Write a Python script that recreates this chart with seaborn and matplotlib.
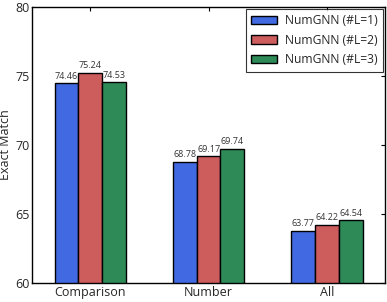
import pandas as pd
import matplotlib
matplotlib.use("Agg")
import matplotlib.pyplot as plt
import seaborn as sns

# ----------- données -----------
categories = ["Comparison", "Number", "All"]
series_names = ["NumGNN (#L=1)", "NumGNN (#L=2)", "NumGNN (#L=3)"]
scores_l1 = [74.46, 68.78, 63.77]
scores_l2 = [75.24, 69.17, 64.22]
scores_l3 = [74.53, 69.74, 64.54]
colors = ["#4169E1", "#CD5C5C", "#2E8B57"]

rows = []
for name, vals in zip(series_names, [scores_l1, scores_l2, scores_l3]):
    for cat, v in zip(categories, vals):
        rows.append({"task": cat, "model": name, "score": v})
df = pd.DataFrame(rows)

# ----------- style -----------
sns.set_style("white")
plt.rcParams["font.family"] = ["Open Sans", "DejaVu Sans"]
plt.rcParams["xtick.direction"] = "in"
plt.rcParams["ytick.direction"] = "in"
plt.rcParams["xtick.top"] = True
plt.rcParams["ytick.right"] = True

fig, ax = plt.subplots(figsize=(3.87, 3.02), dpi=100)
sns.barplot(data=df, x="task", y="score", hue="model", palette=colors,
            width=0.6, edgecolor="black", linewidth=1, saturation=1, ax=ax)

for cont in ax.containers:
    ax.bar_label(cont, fmt="%.2f", fontsize=6.5, padding=2, color="#333333")

ax.set_ylim(60, 80)
ax.set_xlim(-0.49, 2.49)
ax.set_yticks([60, 65, 70, 75, 80])
ax.set_xlabel("")
ax.set_ylabel("Exact Match", fontsize=9, labelpad=2)
ax.tick_params(axis="both", labelsize=9, length=3, width=0.8, color="black", pad=2)
for sp in ax.spines.values():
    sp.set_color("black")
    sp.set_linewidth(1)

leg = ax.legend(loc="upper right", fontsize=8.7, frameon=True, fancybox=False,
                borderpad=0.45, handlelength=2.1, handletextpad=0.7,
                labelspacing=0.55, borderaxespad=0.15)
leg.get_frame().set_edgecolor("black")
leg.get_frame().set_linewidth(0.8)

fig.subplots_adjust(left=0.083, right=0.995, top=0.977, bottom=0.063)
fig.savefig("out.png", dpi=100)
